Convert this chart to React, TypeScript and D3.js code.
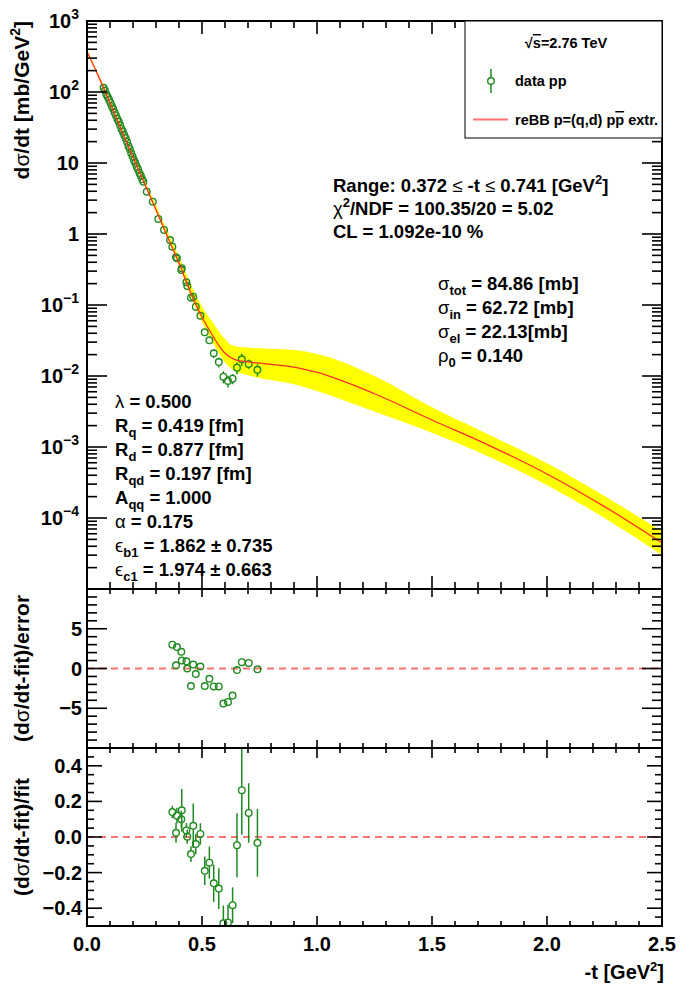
import React from 'react';
import * as d3 from 'd3';

const FONT = '"Liberation Sans", Arial, Helvetica, sans-serif';
const GREEN = '#1f8a1f';
const FITRED = '#ff2e2e';
const BAND = '#ffff00';

// ---- low-|t| data (not in fit range) ----
const lowT = [0.072, 0.078, 0.084, 0.09, 0.096, 0.102, 0.108, 0.114, 0.12, 0.126, 0.132, 0.138, 0.144, 0.15, 0.156, 0.162, 0.168, 0.174, 0.18, 0.186, 0.192, 0.198, 0.204, 0.21, 0.216, 0.222, 0.228, 0.234, 0.24, 0.245, 0.26, 0.286, 0.31, 0.335, 0.361];
const lowVal = [114.8, 104.7, 93.3, 85.1, 77.6, 70.8, 63.1, 57.5, 51.3, 46.8, 41.7, 38.0, 33.9, 30.2, 27.5, 24.5, 22.4, 19.9, 17.4, 15.8, 13.8, 12.3, 11.0, 10.0, 8.91, 8.13, 7.24, 6.61, 5.89, 5.46, 3.94, 2.85, 1.63, 1.14, 0.822];

// ---- fit-range data ----
const highT = [0.371, 0.387, 0.391, 0.41, 0.412, 0.432, 0.436, 0.452, 0.462, 0.473, 0.493, 0.512, 0.532, 0.551, 0.573, 0.593, 0.613, 0.633, 0.652, 0.673, 0.703, 0.741];
const highVal = [0.662, 0.47, 0.455, 0.311, 0.329, 0.209, 0.185, 0.127, 0.131, 0.0946, 0.0706, 0.0412, 0.0318, 0.0209, 0.0157, 0.00977, 0.00851, 0.00916, 0.0131, 0.0172, 0.0148, 0.0122];
const highErr = [0.02, 0.026, 0.018, 0.0136, 0.034, 0.0083, 0.0074, 0.0062, 0.0154, 0.0056, 0.0042, 0.0041, 0.0033, 0.003, 0.0025, 0.0019, 0.0016, 0.0015, 0.0025, 0.0034, 0.0022, 0.0024];
const pullVal = [3.0, 0.4, 2.7, 2.1, 1.0, 0.9, 0.0, -2.2, 0.5, -0.7, 0.25, -2.2, -1.3, -2.25, -2.25, -4.4, -4.2, -3.4, -0.2, 0.8, 0.7, -0.1];
const relVal = [0.14, 0.024, 0.12, 0.1, 0.15, 0.037, 0.002, -0.096, 0.063, -0.04, 0.017, -0.19, -0.144, -0.26, -0.29, -0.485, -0.48, -0.383, -0.046, 0.263, 0.135, -0.033];
const relErr = [0.035, 0.056, 0.044, 0.048, 0.12, 0.041, 0.04, 0.044, 0.125, 0.057, 0.06, 0.08, 0.09, 0.105, 0.115, 0.1, 0.1, 0.1, 0.18, 0.25, 0.167, 0.19];

// ---- reBB extrapolation curve and its band (log10 of mb/GeV^2) ----
const fitT = [0, 0.05, 0.1, 0.15, 0.2, 0.25, 0.3, 0.35, 0.4, 0.45, 0.5, 0.55, 0.575, 0.6, 0.625, 0.65, 0.7, 0.75, 0.8, 0.9, 1.0, 1.25, 1.5, 1.75, 2.0, 2.25, 2.5];
const fitLog10 = [2.57, 2.22, 1.85, 1.46, 1.08, 0.71, 0.34, -0.04, -0.41, -0.82, -1.17, -1.45, -1.58, -1.68, -1.74, -1.775, -1.8, -1.82, -1.835, -1.875, -1.95, -2.25, -2.62, -2.98, -3.38, -3.84, -4.35];
const bandUpLog10 = [2.6, 2.25, 1.89, 1.5, 1.12, 0.76, 0.4, 0.03, -0.32, -0.7, -1.02, -1.26, -1.38, -1.48, -1.56, -1.585, -1.6, -1.61, -1.615, -1.635, -1.69, -2.0, -2.44, -2.83, -3.23, -3.69, -4.19];
const bandLoLog10 = [2.55, 2.2, 1.83, 1.44, 1.06, 0.69, 0.31, -0.07, -0.45, -0.87, -1.24, -1.55, -1.69, -1.81, -1.89, -1.945, -1.99, -2.03, -2.055, -2.115, -2.21, -2.5, -2.8, -3.14, -3.54, -4.0, -4.52];

// ---- axis ticks ----
const xTickVals = d3.range(0, 26).map((i) => i / 10);
const xLabels = ['0.0', '0.5', '1.0', '1.5', '2.0', '2.5'];
const topDecades = [-4, -3, -2, -1, 0, 1, 2, 3];
const midMajor = [-5, 0, 5];
const midLabels = ['\u22125', '0', '5'];
const botMajor = [-0.4, -0.2, 0, 0.2, 0.4];
const botLabels = ['\u22120.4', '\u22120.2', '0.0', '0.2', '0.4'];

const L = 87, R = 662;
const T0 = 21, T1 = 589, M1 = 748, B1 = 926;
const MR = 3.3;

function Marker({ cx, cy }: { cx: number; cy: number }) {
  return <circle cx={cx} cy={cy} r={MR} fill="none" stroke={GREEN} strokeWidth={1.4} />;
}

function ErrBar({ cx, y1, y2, cy }: { cx: number; y1: number; y2: number; cy: number }) {
  const segs: JSX.Element[] = [];
  if (y1 < cy - MR) segs.push(<line key="a" x1={cx} x2={cx} y1={y1} y2={cy - MR} stroke={GREEN} strokeWidth={1.5} />);
  if (y2 > cy + MR) segs.push(<line key="b" x1={cx} x2={cx} y1={cy + MR} y2={y2} stroke={GREEN} strokeWidth={1.5} />);
  return <g>{segs}</g>;
}

function SubText({ x, y, main, greek, sub, rest }: { x: number; y: number; main: string; greek?: boolean; sub: string; rest: string }) {
  return (
    <text x={x} y={y}>
      <tspan fontWeight={greek ? 'normal' : 'bold'}>{main}</tspan>
      <tspan fontSize={13} dy={5}>{sub}</tspan>
      <tspan dy={-5}>{rest}</tspan>
    </text>
  );
}

export default function App() {
  const x = d3.scaleLinear().domain([0, 2.5]).range([L, R]);
  const yTop = d3.scaleLog().domain([1e-5, 1e3]).range([T1, T0]);
  const yMid = d3.scaleLinear().domain([-10, 10]).range([M1, T1]);
  const yBot = d3.scaleLinear().domain([-0.5, 0.5]).range([B1, M1]);

  const idx = fitT.map((_, i) => i);
  const lineGen = d3
    .line<number>()
    .x((i) => x(fitT[i]))
    .y((i) => yTop(Math.pow(10, fitLog10[i])))
    .curve(d3.curveMonotoneX);
  const areaGen = d3
    .area<number>()
    .x((i) => x(fitT[i]))
    .y0((i) => yTop(Math.pow(10, bandLoLog10[i])))
    .y1((i) => yTop(Math.pow(10, bandUpLog10[i])))
    .curve(d3.curveMonotoneX);

  const xTicks = (yEdgeTop: number, yEdgeBot: number, maj: number, min: number, key: string) =>
    xTickVals.map((t, i) => {
      const len = i % 5 === 0 ? maj : min;
      const px = x(t);
      return (
        <g key={key + i}>
          <line x1={px} x2={px} y1={yEdgeTop} y2={yEdgeTop + len} stroke="#000" strokeWidth={1.6} />
          <line x1={px} x2={px} y1={yEdgeBot} y2={yEdgeBot - len} stroke="#000" strokeWidth={1.6} />
        </g>
      );
    });

  const yTicks = (vals: number[], scale: (v: number) => number, len: number, key: string) =>
    vals.map((v, i) => {
      const py = scale(v);
      return (
        <g key={key + i}>
          <line x1={L} x2={L + len} y1={py} y2={py} stroke="#000" strokeWidth={1.6} />
          <line x1={R} x2={R - len} y1={py} y2={py} stroke="#000" strokeWidth={1.6} />
        </g>
      );
    });

  const topMajorVals = d3.range(-5, 4).map((k) => Math.pow(10, k));
  const topMinorVals: number[] = [];
  for (let k = -5; k < 3; k++) for (let m = 2; m <= 9; m++) topMinorVals.push(m * Math.pow(10, k));
  const midMinorVals = d3.range(-9, 10).filter((v) => v % 5 !== 0);
  const botMinorVals = d3.range(-9, 10).filter((v) => v % 4 !== 0).map((v) => v * 0.05);

  return (
    <svg width={685} height={988} style={{ position: 'absolute', left: 0, top: 0, background: '#fff' }} fontFamily={FONT} fontWeight="bold">
      <defs>
        <clipPath id="cTop"><rect x={L} y={T0} width={R - L} height={T1 - T0} /></clipPath>
        <clipPath id="cMid"><rect x={L} y={T1} width={R - L} height={M1 - T1} /></clipPath>
        <clipPath id="cBot"><rect x={L} y={M1} width={R - L} height={B1 - M1} /></clipPath>
      </defs>
      <rect x={0} y={0} width={685} height={988} fill="#fff" />

      {/* ---------- TOP PANEL ---------- */}
      <g clipPath="url(#cTop)">
        <path d={areaGen(idx) || ''} fill={BAND} stroke="none" />
        {lowT.map((t, i) => (
          <Marker key={'l' + i} cx={x(t)} cy={yTop(lowVal[i])} />
        ))}
        {highT.map((t, i) => {
          const cy = yTop(highVal[i]);
          return (
            <g key={'h' + i}>
              <ErrBar cx={x(t)} cy={cy} y1={yTop(highVal[i] + highErr[i])} y2={yTop(highVal[i] - highErr[i])} />
              <Marker cx={x(t)} cy={cy} />
            </g>
          );
        })}
        <path d={lineGen(idx) || ''} fill="none" stroke={FITRED} strokeWidth={1.3} />
      </g>
      {xTicks(T0, T1, 13, 7, 'tx')}
      {yTicks(topMajorVals, yTop, 20, 'tyM')}
      {yTicks(topMinorVals, yTop, 10, 'tym')}
      {topDecades.map((k) => {
        const py = yTop(Math.pow(10, k)) + 7;
        if (k === 0) return <text key={'d' + k} x={79} y={py} textAnchor="end" fontSize={20}>1</text>;
        if (k === 1) return <text key={'d' + k} x={79} y={py} textAnchor="end" fontSize={20}>10</text>;
        return (
          <text key={'d' + k} x={79} y={py} textAnchor="end" fontSize={20}>
            10<tspan fontSize={14} dy={-9}>{k < 0 ? '\u2212' + -k : String(k)}</tspan>
          </text>
        );
      })}

      {/* ---------- MIDDLE PANEL ---------- */}
      <g clipPath="url(#cMid)">
        <line x1={L} x2={R} y1={yMid(0)} y2={yMid(0)} stroke="#ff7272" strokeWidth={2} strokeDasharray="7 5" />
        {highT.map((t, i) => (
          <Marker key={'p' + i} cx={x(t)} cy={yMid(pullVal[i])} />
        ))}
      </g>
      {xTicks(T1, M1, 8, 5, 'mx')}
      {yTicks(midMajor, yMid, 20, 'myM')}
      {yTicks(midMinorVals, yMid, 10, 'mym')}
      {midMajor.map((v, i) => (
        <text key={'ml' + i} x={82} y={yMid(v) + 7} textAnchor="end" fontSize={20}>{midLabels[i]}</text>
      ))}

      {/* ---------- BOTTOM PANEL ---------- */}
      <g clipPath="url(#cBot)">
        <line x1={L} x2={R} y1={yBot(0)} y2={yBot(0)} stroke="#ff7272" strokeWidth={2} strokeDasharray="7 5" />
        {highT.map((t, i) => {
          const cy = yBot(relVal[i]);
          return (
            <g key={'r' + i}>
              <ErrBar cx={x(t)} cy={cy} y1={yBot(relVal[i] + relErr[i])} y2={yBot(relVal[i] - relErr[i])} />
              <Marker cx={x(t)} cy={cy} />
            </g>
          );
        })}
      </g>
      {xTicks(M1, B1, 10, 5, 'bx')}
      {yTicks(botMajor, yBot, 15, 'byM')}
      {yTicks(botMinorVals, yBot, 7, 'bym')}
      {botMajor.map((v, i) => (
        <text key={'bl' + i} x={82} y={yBot(v) + 7} textAnchor="end" fontSize={20}>{botLabels[i]}</text>
      ))}
      {[0, 0.5, 1, 1.5, 2, 2.5].map((t, i) => (
        <text key={'xl' + i} x={x(t)} y={951} textAnchor="middle" fontSize={20}>{xLabels[i]}</text>
      ))}

      {/* frames */}
      <rect x={L} y={T0} width={R - L} height={T1 - T0} fill="none" stroke="#000" strokeWidth={2} />
      <rect x={L} y={T1} width={R - L} height={M1 - T1} fill="none" stroke="#000" strokeWidth={2} />
      <rect x={L} y={M1} width={R - L} height={B1 - M1} fill="none" stroke="#000" strokeWidth={2} />

      {/* axis titles */}
      <text transform={`translate(29,${T0}) rotate(-90)`} textAnchor="end" fontSize={21}>
        d<tspan fontWeight="normal">σ</tspan>/dt [mb/GeV<tspan fontSize={14} dy={-9}>2</tspan><tspan dy={9}>]</tspan>
      </text>
      <text transform={`translate(29,${(T1 + M1) / 2}) rotate(-90)`} textAnchor="middle" fontSize={21}>
        (d<tspan fontWeight="normal">σ</tspan>/dt-fit)/error
      </text>
      <text transform={`translate(29,${(M1 + B1) / 2}) rotate(-90)`} textAnchor="middle" fontSize={21}>
        (d<tspan fontWeight="normal">σ</tspan>/dt-fit)/fit
      </text>
      <text x={664} y={979} textAnchor="end" fontSize={20}>
        -t [GeV<tspan fontSize={13} dy={-8}>2</tspan><tspan dy={8}>]</tspan>
      </text>

      {/* legend */}
      <rect x={465} y={T0} width={R - 465} height={117} fill="#fff" stroke="#000" strokeWidth={1} />
      <text x={566} y={48} textAnchor="middle" fontSize={14.5}>
        √<tspan style={{ textDecoration: 'overline' }}>s</tspan>=2.76 TeV
      </text>
      <line x1={491} x2={491} y1={69} y2={81 - MR} stroke={GREEN} strokeWidth={1.5} />
      <line x1={491} x2={491} y1={81 + MR} y2={93} stroke={GREEN} strokeWidth={1.5} />
      <Marker cx={491} cy={81} />
      <text x={515} y={86} fontSize={14.5}>data pp</text>
      <line x1={473} x2={508} y1={119.5} y2={119.5} stroke="#ff7070" strokeWidth={2} />
      <text x={515} y={125} fontSize={14.5}>
        reBB p=(q,d) p<tspan style={{ textDecoration: 'overline' }}>p</tspan> extr.
      </text>

      {/* fit info */}
      <g fontSize={18.5}>
        <text x={333} y={192}>
          Range: 0.372 <tspan fontWeight="normal">≤</tspan> -t <tspan fontWeight="normal">≤</tspan> 0.741 [GeV<tspan fontSize={13} dy={-8}>2</tspan><tspan dy={8}>]</tspan>
        </text>
        <text x={333} y={215}>
          <tspan fontWeight="normal">χ</tspan><tspan fontSize={13} dy={-8}>2</tspan><tspan dy={8}>/NDF = 100.35/20 = 5.02</tspan>
        </text>
        <text x={333} y={238}>CL = 1.092e-10 %</text>

        <SubText x={438} y={290} main="σ" greek sub="tot" rest=" = 84.86 [mb]" />
        <SubText x={438} y={314} main="σ" greek sub="in" rest=" = 62.72 [mb]" />
        <SubText x={438} y={338} main="σ" greek sub="el" rest=" = 22.13[mb]" />
        <SubText x={438} y={362} main="ρ" greek sub="0" rest=" = 0.140" />

        <text x={115} y={408}><tspan fontWeight="normal">λ</tspan> = 0.500</text>
        <SubText x={115} y={432} main="R" sub="q" rest=" = 0.419 [fm]" />
        <SubText x={115} y={456} main="R" sub="d" rest=" = 0.877 [fm]" />
        <SubText x={115} y={480} main="R" sub="qd" rest=" = 0.197 [fm]" />
        <SubText x={115} y={504} main="A" sub="qq" rest=" = 1.000" />
        <text x={115} y={528}><tspan fontWeight="normal">α</tspan> = 0.175</text>
        <SubText x={115} y={552} main="ϵ" greek sub="b1" rest=" = 1.862 ± 0.735" />
        <SubText x={115} y={576} main="ϵ" greek sub="c1" rest=" = 1.974 ± 0.663" />
      </g>
    </svg>
  );
}
